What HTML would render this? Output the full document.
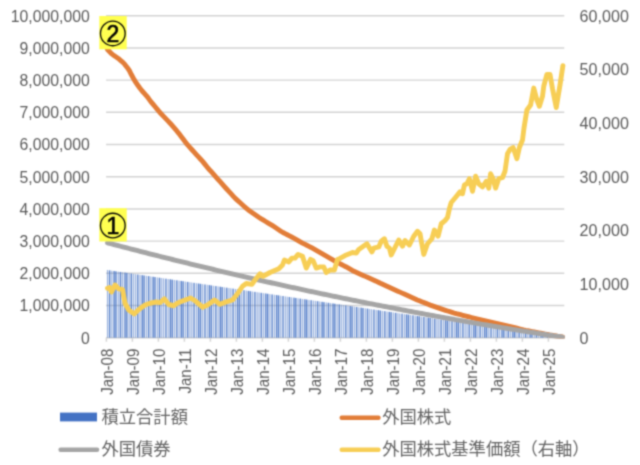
<!DOCTYPE html>
<html lang="ja"><head><meta charset="utf-8"><title>chart</title>
<style>html,body{margin:0;padding:0;background:#fff}body{width:640px;height:465px;overflow:hidden;font-family:"Liberation Sans",sans-serif}svg{display:block}text{font-family:"Liberation Sans",sans-serif;fill:#595959}</style>
</head><body>
<svg width="640" height="465" viewBox="0 0 640 465">
<defs>
<filter id="bl" color-interpolation-filters="sRGB" filterUnits="userSpaceOnUse" x="-20" y="-20" width="680" height="505"><feConvolveMatrix order="5" kernelMatrix="0.0001 0.002 0.0055 0.002 0.0001 0.002 0.0422 0.1171 0.0422 0.002 0.0055 0.1171 0.3248 0.1171 0.0055 0.002 0.0422 0.1171 0.0422 0.002 0.0001 0.002 0.0055 0.002 0.0001" edgeMode="duplicate" preserveAlpha="false"/></filter>
<filter id="bb" color-interpolation-filters="sRGB" filterUnits="userSpaceOnUse" x="100" y="260" width="472" height="82"><feConvolveMatrix order="7 1" kernelMatrix="0 0 0.0526 0.8948 0.0526 0 0" edgeMode="none" preserveAlpha="false"/></filter>
<clipPath id="pc"><rect x="95" y="0" width="480" height="338.40"/></clipPath>
</defs>
<rect width="640" height="465" fill="#fff"/>
<g filter="url(#bl)">
<rect x="-20" y="-20" width="680" height="505" fill="#fff"/>
<g stroke="#d3d3d3" stroke-width="1.45" fill="none">
<line x1="106.10" y1="15.70" x2="564.27" y2="15.70"/>
<line x1="106.10" y1="47.90" x2="564.27" y2="47.90"/>
<line x1="106.10" y1="80.10" x2="564.27" y2="80.10"/>
<line x1="106.10" y1="112.30" x2="564.27" y2="112.30"/>
<line x1="106.10" y1="144.50" x2="564.27" y2="144.50"/>
<line x1="106.10" y1="176.70" x2="564.27" y2="176.70"/>
<line x1="106.10" y1="208.90" x2="564.27" y2="208.90"/>
<line x1="106.10" y1="241.10" x2="564.27" y2="241.10"/>
<line x1="106.10" y1="273.30" x2="564.27" y2="273.30"/>
<line x1="106.10" y1="305.50" x2="564.27" y2="305.50"/>
<line x1="106.10" y1="337.70" x2="564.27" y2="337.70"/>
<line x1="106.40" y1="337.70" x2="106.40" y2="341.70"/>
<line x1="132.40" y1="337.70" x2="132.40" y2="341.70"/>
<line x1="158.40" y1="337.70" x2="158.40" y2="341.70"/>
<line x1="184.40" y1="337.70" x2="184.40" y2="341.70"/>
<line x1="210.40" y1="337.70" x2="210.40" y2="341.70"/>
<line x1="236.40" y1="337.70" x2="236.40" y2="341.70"/>
<line x1="262.40" y1="337.70" x2="262.40" y2="341.70"/>
<line x1="288.40" y1="337.70" x2="288.40" y2="341.70"/>
<line x1="314.40" y1="337.70" x2="314.40" y2="341.70"/>
<line x1="340.40" y1="337.70" x2="340.40" y2="341.70"/>
<line x1="366.40" y1="337.70" x2="366.40" y2="341.70"/>
<line x1="392.40" y1="337.70" x2="392.40" y2="341.70"/>
<line x1="418.40" y1="337.70" x2="418.40" y2="341.70"/>
<line x1="444.40" y1="337.70" x2="444.40" y2="341.70"/>
<line x1="470.40" y1="337.70" x2="470.40" y2="341.70"/>
<line x1="496.40" y1="337.70" x2="496.40" y2="341.70"/>
<line x1="522.40" y1="337.70" x2="522.40" y2="341.70"/>
<line x1="548.40" y1="337.70" x2="548.40" y2="341.70"/>
</g>
<g fill="#4472c4" filter="url(#bb)">
<rect x="107.04" y="270.00" width="0.64" height="67.70"/>
<rect x="108.96" y="270.32" width="1.28" height="67.38"/>
<rect x="111.52" y="270.64" width="0.64" height="67.06"/>
<rect x="113.44" y="270.96" width="1.28" height="66.74"/>
<rect x="115.36" y="271.29" width="1.28" height="66.41"/>
<rect x="117.92" y="271.61" width="0.64" height="66.09"/>
<rect x="119.84" y="271.93" width="1.28" height="65.77"/>
<rect x="122.40" y="272.25" width="0.64" height="65.45"/>
<rect x="124.32" y="272.57" width="1.28" height="65.13"/>
<rect x="126.24" y="272.89" width="1.28" height="64.81"/>
<rect x="128.80" y="273.21" width="0.64" height="64.49"/>
<rect x="130.72" y="273.54" width="1.28" height="64.16"/>
<rect x="133.28" y="273.86" width="0.64" height="63.84"/>
<rect x="135.20" y="274.18" width="0.64" height="63.52"/>
<rect x="137.12" y="274.50" width="1.28" height="63.20"/>
<rect x="139.68" y="274.82" width="0.64" height="62.88"/>
<rect x="141.60" y="275.14" width="1.28" height="62.56"/>
<rect x="143.52" y="275.46" width="1.28" height="62.24"/>
<rect x="146.08" y="275.79" width="0.64" height="61.91"/>
<rect x="148.00" y="276.11" width="1.28" height="61.59"/>
<rect x="150.56" y="276.43" width="0.64" height="61.27"/>
<rect x="152.48" y="276.75" width="1.28" height="60.95"/>
<rect x="154.40" y="277.07" width="1.28" height="60.63"/>
<rect x="156.96" y="277.39" width="0.64" height="60.31"/>
<rect x="158.88" y="277.71" width="1.28" height="59.99"/>
<rect x="161.44" y="278.04" width="0.64" height="59.66"/>
<rect x="163.36" y="278.36" width="0.64" height="59.34"/>
<rect x="165.28" y="278.68" width="1.28" height="59.02"/>
<rect x="167.84" y="279.00" width="0.64" height="58.70"/>
<rect x="169.76" y="279.32" width="1.28" height="58.38"/>
<rect x="171.68" y="279.64" width="1.28" height="58.06"/>
<rect x="174.24" y="279.96" width="0.64" height="57.74"/>
<rect x="176.16" y="280.29" width="1.28" height="57.41"/>
<rect x="178.72" y="280.61" width="0.64" height="57.09"/>
<rect x="180.64" y="280.93" width="1.28" height="56.77"/>
<rect x="182.56" y="281.25" width="1.28" height="56.45"/>
<rect x="185.12" y="281.57" width="0.64" height="56.13"/>
<rect x="187.04" y="281.89" width="1.28" height="55.81"/>
<rect x="189.60" y="282.21" width="0.64" height="55.49"/>
<rect x="191.52" y="282.54" width="0.64" height="55.16"/>
<rect x="193.44" y="282.86" width="1.28" height="54.84"/>
<rect x="196.00" y="283.18" width="0.64" height="54.52"/>
<rect x="197.92" y="283.50" width="1.28" height="54.20"/>
<rect x="199.84" y="283.82" width="1.28" height="53.88"/>
<rect x="202.40" y="284.14" width="0.64" height="53.56"/>
<rect x="204.32" y="284.46" width="1.28" height="53.24"/>
<rect x="206.88" y="284.79" width="0.64" height="52.91"/>
<rect x="208.80" y="285.11" width="1.28" height="52.59"/>
<rect x="210.72" y="285.43" width="1.28" height="52.27"/>
<rect x="213.28" y="285.75" width="0.64" height="51.95"/>
<rect x="215.20" y="286.07" width="1.28" height="51.63"/>
<rect x="217.76" y="286.39" width="0.64" height="51.31"/>
<rect x="219.68" y="286.71" width="1.28" height="50.99"/>
<rect x="221.60" y="287.04" width="1.28" height="50.66"/>
<rect x="224.16" y="287.36" width="0.64" height="50.34"/>
<rect x="226.08" y="287.68" width="1.28" height="50.02"/>
<rect x="228.64" y="288.00" width="0.64" height="49.70"/>
<rect x="230.56" y="288.32" width="0.64" height="49.38"/>
<rect x="232.48" y="288.64" width="1.28" height="49.06"/>
<rect x="235.04" y="288.96" width="0.64" height="48.74"/>
<rect x="236.96" y="289.29" width="1.28" height="48.41"/>
<rect x="238.88" y="289.61" width="1.28" height="48.09"/>
<rect x="241.44" y="289.93" width="0.64" height="47.77"/>
<rect x="243.36" y="290.25" width="1.28" height="47.45"/>
<rect x="245.92" y="290.57" width="0.64" height="47.13"/>
<rect x="247.84" y="290.89" width="1.28" height="46.81"/>
<rect x="249.76" y="291.21" width="1.28" height="46.49"/>
<rect x="252.32" y="291.54" width="0.64" height="46.16"/>
<rect x="254.24" y="291.86" width="1.28" height="45.84"/>
<rect x="256.80" y="292.18" width="0.64" height="45.52"/>
<rect x="258.72" y="292.50" width="0.64" height="45.20"/>
<rect x="260.64" y="292.82" width="1.28" height="44.88"/>
<rect x="263.20" y="293.14" width="0.64" height="44.56"/>
<rect x="265.12" y="293.46" width="1.28" height="44.24"/>
<rect x="267.04" y="293.79" width="1.28" height="43.91"/>
<rect x="269.60" y="294.11" width="0.64" height="43.59"/>
<rect x="271.52" y="294.43" width="1.28" height="43.27"/>
<rect x="274.08" y="294.75" width="0.64" height="42.95"/>
<rect x="276.00" y="295.07" width="1.28" height="42.63"/>
<rect x="277.92" y="295.39" width="1.28" height="42.31"/>
<rect x="280.48" y="295.71" width="0.64" height="41.99"/>
<rect x="282.40" y="296.04" width="1.28" height="41.66"/>
<rect x="284.96" y="296.36" width="0.64" height="41.34"/>
<rect x="286.88" y="296.68" width="0.64" height="41.02"/>
<rect x="288.80" y="297.00" width="1.28" height="40.70"/>
<rect x="291.36" y="297.32" width="0.64" height="40.38"/>
<rect x="293.28" y="297.64" width="1.28" height="40.06"/>
<rect x="295.20" y="297.96" width="1.28" height="39.74"/>
<rect x="297.76" y="298.29" width="0.64" height="39.41"/>
<rect x="299.68" y="298.61" width="1.28" height="39.09"/>
<rect x="302.24" y="298.93" width="0.64" height="38.77"/>
<rect x="304.16" y="299.25" width="1.28" height="38.45"/>
<rect x="306.08" y="299.57" width="1.28" height="38.13"/>
<rect x="308.64" y="299.89" width="0.64" height="37.81"/>
<rect x="310.56" y="300.21" width="1.28" height="37.49"/>
<rect x="313.12" y="300.54" width="0.64" height="37.16"/>
<rect x="315.04" y="300.86" width="0.64" height="36.84"/>
<rect x="316.96" y="301.18" width="1.28" height="36.52"/>
<rect x="319.52" y="301.50" width="0.64" height="36.20"/>
<rect x="321.44" y="301.82" width="1.28" height="35.88"/>
<rect x="323.36" y="302.14" width="1.28" height="35.56"/>
<rect x="325.92" y="302.46" width="0.64" height="35.24"/>
<rect x="327.84" y="302.79" width="1.28" height="34.91"/>
<rect x="330.40" y="303.11" width="0.64" height="34.59"/>
<rect x="332.32" y="303.43" width="1.28" height="34.27"/>
<rect x="334.24" y="303.75" width="1.28" height="33.95"/>
<rect x="336.80" y="304.07" width="0.64" height="33.63"/>
<rect x="338.72" y="304.39" width="1.28" height="33.31"/>
<rect x="341.28" y="304.71" width="0.64" height="32.99"/>
<rect x="343.20" y="305.04" width="0.64" height="32.66"/>
<rect x="345.12" y="305.36" width="1.28" height="32.34"/>
<rect x="347.68" y="305.68" width="0.64" height="32.02"/>
<rect x="349.60" y="306.00" width="1.28" height="31.70"/>
<rect x="351.52" y="306.32" width="1.28" height="31.38"/>
<rect x="354.08" y="306.64" width="0.64" height="31.06"/>
<rect x="356.00" y="306.96" width="1.28" height="30.74"/>
<rect x="358.56" y="307.29" width="0.64" height="30.41"/>
<rect x="360.48" y="307.61" width="1.28" height="30.09"/>
<rect x="362.40" y="307.93" width="1.28" height="29.77"/>
<rect x="364.96" y="308.25" width="0.64" height="29.45"/>
<rect x="366.88" y="308.57" width="1.28" height="29.13"/>
<rect x="369.44" y="308.89" width="0.64" height="28.81"/>
<rect x="371.36" y="309.21" width="0.64" height="28.49"/>
<rect x="373.28" y="309.54" width="1.28" height="28.16"/>
<rect x="375.84" y="309.86" width="0.64" height="27.84"/>
<rect x="377.76" y="310.18" width="1.28" height="27.52"/>
<rect x="379.68" y="310.50" width="1.28" height="27.20"/>
<rect x="382.24" y="310.82" width="0.64" height="26.88"/>
<rect x="384.16" y="311.14" width="1.28" height="26.56"/>
<rect x="386.72" y="311.46" width="0.64" height="26.24"/>
<rect x="388.64" y="311.79" width="1.28" height="25.91"/>
<rect x="390.56" y="312.11" width="1.28" height="25.59"/>
<rect x="393.12" y="312.43" width="0.64" height="25.27"/>
<rect x="395.04" y="312.75" width="1.28" height="24.95"/>
<rect x="397.60" y="313.07" width="0.64" height="24.63"/>
<rect x="399.52" y="313.39" width="0.64" height="24.31"/>
<rect x="401.44" y="313.71" width="1.28" height="23.99"/>
<rect x="404.00" y="314.04" width="0.64" height="23.66"/>
<rect x="405.92" y="314.36" width="1.28" height="23.34"/>
<rect x="407.84" y="314.68" width="1.28" height="23.02"/>
<rect x="410.40" y="315.00" width="0.64" height="22.70"/>
<rect x="412.32" y="315.32" width="1.28" height="22.38"/>
<rect x="414.88" y="315.64" width="0.64" height="22.06"/>
<rect x="416.80" y="315.96" width="1.28" height="21.74"/>
<rect x="418.72" y="316.29" width="1.28" height="21.41"/>
<rect x="421.28" y="316.61" width="0.64" height="21.09"/>
<rect x="423.20" y="316.93" width="1.28" height="20.77"/>
<rect x="425.76" y="317.25" width="0.64" height="20.45"/>
<rect x="427.68" y="317.57" width="1.28" height="20.13"/>
<rect x="429.60" y="317.89" width="1.28" height="19.81"/>
<rect x="432.16" y="318.21" width="0.64" height="19.49"/>
<rect x="434.08" y="318.54" width="1.28" height="19.16"/>
<rect x="436.64" y="318.86" width="0.64" height="18.84"/>
<rect x="438.56" y="319.18" width="0.64" height="18.52"/>
<rect x="440.48" y="319.50" width="1.28" height="18.20"/>
<rect x="443.04" y="319.82" width="0.64" height="17.88"/>
<rect x="444.96" y="320.14" width="1.28" height="17.56"/>
<rect x="446.88" y="320.46" width="1.28" height="17.24"/>
<rect x="449.44" y="320.79" width="0.64" height="16.91"/>
<rect x="451.36" y="321.11" width="1.28" height="16.59"/>
<rect x="453.92" y="321.43" width="0.64" height="16.27"/>
<rect x="455.84" y="321.75" width="1.28" height="15.95"/>
<rect x="457.76" y="322.07" width="1.28" height="15.63"/>
<rect x="460.32" y="322.39" width="0.64" height="15.31"/>
<rect x="462.24" y="322.71" width="1.28" height="14.99"/>
<rect x="464.80" y="323.04" width="0.64" height="14.66"/>
<rect x="466.72" y="323.36" width="0.64" height="14.34"/>
<rect x="468.64" y="323.68" width="1.28" height="14.02"/>
<rect x="471.20" y="324.00" width="0.64" height="13.70"/>
<rect x="473.12" y="324.32" width="1.28" height="13.38"/>
<rect x="475.04" y="324.64" width="1.28" height="13.06"/>
<rect x="477.60" y="324.96" width="0.64" height="12.74"/>
<rect x="479.52" y="325.29" width="1.28" height="12.41"/>
<rect x="482.08" y="325.61" width="0.64" height="12.09"/>
<rect x="484.00" y="325.93" width="1.28" height="11.77"/>
<rect x="485.92" y="326.25" width="1.28" height="11.45"/>
<rect x="488.48" y="326.57" width="0.64" height="11.13"/>
<rect x="490.40" y="326.89" width="1.28" height="10.81"/>
<rect x="492.96" y="327.21" width="0.64" height="10.49"/>
<rect x="494.88" y="327.54" width="0.64" height="10.16"/>
<rect x="496.80" y="327.86" width="1.28" height="9.84"/>
<rect x="499.36" y="328.18" width="0.64" height="9.52"/>
<rect x="501.28" y="328.50" width="1.28" height="9.20"/>
<rect x="503.20" y="328.82" width="1.28" height="8.88"/>
<rect x="505.76" y="329.14" width="0.64" height="8.56"/>
<rect x="507.68" y="329.46" width="1.28" height="8.24"/>
<rect x="510.24" y="329.79" width="0.64" height="7.91"/>
<rect x="512.16" y="330.11" width="1.28" height="7.59"/>
<rect x="514.08" y="330.43" width="1.28" height="7.27"/>
<rect x="516.64" y="330.75" width="0.64" height="6.95"/>
<rect x="518.56" y="331.07" width="1.28" height="6.63"/>
<rect x="521.12" y="331.39" width="0.64" height="6.31"/>
<rect x="523.04" y="331.71" width="0.64" height="5.99"/>
<rect x="524.96" y="332.04" width="1.28" height="5.66"/>
<rect x="527.52" y="332.36" width="0.64" height="5.34"/>
<rect x="529.44" y="332.68" width="1.28" height="5.02"/>
<rect x="531.36" y="333.00" width="1.28" height="4.70"/>
<rect x="533.92" y="333.32" width="0.64" height="4.38"/>
<rect x="535.84" y="333.64" width="1.28" height="4.06"/>
<rect x="538.40" y="333.96" width="0.64" height="3.74"/>
<rect x="540.32" y="334.29" width="1.28" height="3.41"/>
<rect x="542.24" y="334.61" width="1.28" height="3.09"/>
<rect x="544.80" y="334.93" width="0.64" height="2.77"/>
<rect x="546.72" y="335.25" width="1.28" height="2.45"/>
<rect x="549.28" y="335.57" width="0.64" height="2.13"/>
<rect x="551.20" y="335.89" width="0.64" height="1.81"/>
<rect x="553.12" y="336.21" width="1.28" height="1.49"/>
<rect x="555.68" y="336.54" width="0.64" height="1.16"/>
<rect x="557.60" y="336.86" width="1.28" height="0.84"/>
<rect x="559.52" y="337.18" width="1.28" height="0.52"/>
<rect x="562.08" y="337.50" width="0.64" height="0.20"/>
</g>
<g clip-path="url(#pc)">
<polyline points="107.48,49.58 109.65,51.75 111.82,53.92 113.98,55.58 116.15,57.02 118.32,58.46 120.48,60.26 122.65,62.14 124.82,64.44 126.98,67.17 129.15,70.20 131.32,74.53 133.48,78.53 135.65,82.11 137.82,85.26 139.98,88.25 142.15,90.99 144.32,93.39 146.48,95.78 148.65,98.60 150.82,101.58 152.98,104.18 155.15,106.78 157.32,109.38 159.48,111.98 161.65,114.33 163.82,116.61 165.98,118.88 168.15,121.16 170.32,123.46 172.48,125.96 174.65,128.45 176.82,130.94 178.98,133.59 181.15,136.44 183.32,139.30 185.48,142.15 187.65,144.97 189.82,147.36 191.98,149.76 194.15,152.16 196.32,154.53 198.48,156.89 200.65,159.24 202.82,161.65 204.98,164.35 207.15,167.06 209.32,169.53 211.48,171.96 213.65,174.39 215.82,176.81 217.98,179.26 220.15,181.71 222.32,184.16 224.48,186.62 226.65,189.00 228.82,191.36 230.98,193.72 233.15,196.08 235.32,198.39 237.48,200.34 239.65,202.30 241.82,204.26 243.98,206.22 246.15,208.18 248.32,209.97 250.48,211.48 252.65,212.98 254.82,214.49 256.98,216.00 259.15,217.51 261.32,218.89 263.48,220.19 265.65,221.49 267.82,222.79 269.98,224.09 272.15,225.39 274.32,226.82 276.48,228.27 278.65,229.72 280.82,231.17 282.98,232.55 285.15,233.67 287.32,234.79 289.48,235.90 291.65,237.02 293.82,238.14 295.98,239.32 298.15,240.58 300.32,241.83 302.48,243.09 304.65,244.18 306.82,245.27 308.98,246.36 311.15,247.45 313.32,248.68 315.48,249.92 317.65,251.16 319.82,252.40 321.98,253.63 324.15,254.87 326.32,256.11 328.48,257.35 330.65,258.59 332.82,259.82 334.98,261.06 337.15,262.30 339.32,263.41 341.48,264.49 343.65,265.57 345.82,266.72 347.98,267.98 350.15,269.24 352.32,270.49 354.48,271.50 356.65,272.48 358.82,273.46 360.98,274.43 363.15,275.41 365.32,276.39 367.48,277.33 369.65,278.27 371.82,279.22 373.98,280.16 376.15,281.18 378.32,282.26 380.48,283.32 382.65,284.30 384.82,285.28 386.98,286.26 389.15,287.24 391.32,288.22 393.48,289.19 395.65,290.17 397.82,291.15 399.98,292.13 402.15,293.11 404.32,294.09 406.48,295.06 408.65,296.04 410.82,297.01 412.98,297.98 415.15,298.95 417.32,299.92 419.48,300.79 421.65,301.66 423.82,302.53 425.98,303.39 428.15,304.26 430.32,305.11 432.48,305.87 434.65,306.64 436.82,307.40 438.98,308.16 441.15,308.92 443.32,309.65 445.48,310.33 447.65,311.01 449.82,311.68 451.98,312.36 454.15,313.03 456.32,313.64 458.48,314.19 460.65,314.74 462.82,315.29 464.98,315.85 467.15,316.40 469.32,316.95 471.48,317.50 473.65,318.06 475.82,318.59 477.98,319.08 480.15,319.57 482.32,320.06 484.48,320.55 486.65,321.04 488.82,321.53 490.98,322.03 493.15,322.54 495.32,323.05 497.48,323.56 499.65,324.07 501.82,324.58 503.98,325.09 506.15,325.60 508.32,326.10 510.48,326.62 512.65,327.15 514.82,327.69 516.98,328.22 519.15,328.76 521.32,329.29 523.48,329.83 525.65,330.32 527.82,330.74 529.98,331.16 532.15,331.57 534.32,331.99 536.48,332.40 538.65,332.82 540.82,333.24 542.98,333.65 545.15,334.07 547.32,334.48 549.48,334.90 551.65,335.26 553.82,335.61 555.98,335.96 558.15,336.30 560.32,336.65 562.48,337.00" fill="none" stroke="#e27d38" stroke-width="4.9" stroke-linejoin="round" stroke-linecap="round"/>
<polyline points="107.48,242.83 109.65,243.40 111.82,243.97 113.98,244.54 116.15,245.11 118.32,245.68 120.48,246.25 122.65,246.81 124.82,247.38 126.98,247.94 129.15,248.50 131.32,249.06 133.48,249.62 135.65,250.18 137.82,250.74 139.98,251.30 142.15,251.85 144.32,252.40 146.48,252.96 148.65,253.51 150.82,254.06 152.98,254.61 155.15,255.16 157.32,255.70 159.48,256.25 161.65,256.79 163.82,257.34 165.98,257.88 168.15,258.42 170.32,258.96 172.48,259.50 174.65,260.04 176.82,260.57 178.98,261.11 181.15,261.64 183.32,262.17 185.48,262.70 187.65,263.23 189.82,263.76 191.98,264.29 194.15,264.82 196.32,265.34 198.48,265.87 200.65,266.39 202.82,266.91 204.98,267.43 207.15,267.95 209.32,268.47 211.48,268.99 213.65,269.50 215.82,270.02 217.98,270.53 220.15,271.04 222.32,271.56 224.48,272.07 226.65,272.58 228.82,273.08 230.98,273.59 233.15,274.09 235.32,274.60 237.48,275.10 239.65,275.60 241.82,276.10 243.98,276.60 246.15,277.10 248.32,277.60 250.48,278.09 252.65,278.59 254.82,279.08 256.98,279.57 259.15,280.07 261.32,280.56 263.48,281.04 265.65,281.53 267.82,282.02 269.98,282.50 272.15,282.99 274.32,283.47 276.48,283.95 278.65,284.43 280.82,284.91 282.98,285.39 285.15,285.87 287.32,286.34 289.48,286.82 291.65,287.29 293.82,287.76 295.98,288.23 298.15,288.70 300.32,289.17 302.48,289.64 304.65,290.10 306.82,290.57 308.98,291.03 311.15,291.50 313.32,291.96 315.48,292.42 317.65,292.88 319.82,293.33 321.98,293.79 324.15,294.25 326.32,294.70 328.48,295.15 330.65,295.61 332.82,296.06 334.98,296.51 337.15,296.95 339.32,297.40 341.48,297.85 343.65,298.29 345.82,298.74 347.98,299.18 350.15,299.62 352.32,300.06 354.48,300.50 356.65,300.94 358.82,301.37 360.98,301.81 363.15,302.24 365.32,302.68 367.48,303.11 369.65,303.54 371.82,303.97 373.98,304.40 376.15,304.82 378.32,305.25 380.48,305.67 382.65,306.10 384.82,306.52 386.98,306.94 389.15,307.36 391.32,307.78 393.48,308.20 395.65,308.61 397.82,309.03 399.98,309.44 402.15,309.86 404.32,310.27 406.48,310.68 408.65,311.09 410.82,311.49 412.98,311.90 415.15,312.31 417.32,312.71 419.48,313.11 421.65,313.52 423.82,313.92 425.98,314.32 428.15,314.72 430.32,315.11 432.48,315.51 434.65,315.90 436.82,316.30 438.98,316.69 441.15,317.08 443.32,317.47 445.48,317.86 447.65,318.25 449.82,318.64 451.98,319.02 454.15,319.41 456.32,319.79 458.48,320.17 460.65,320.55 462.82,320.93 464.98,321.31 467.15,321.69 469.32,322.06 471.48,322.44 473.65,322.81 475.82,323.19 477.98,323.56 480.15,323.93 482.32,324.30 484.48,324.66 486.65,325.03 488.82,325.40 490.98,325.76 493.15,326.12 495.32,326.48 497.48,326.84 499.65,327.20 501.82,327.56 503.98,327.92 506.15,328.28 508.32,328.63 510.48,328.98 512.65,329.34 514.82,329.69 516.98,330.04 519.15,330.39 521.32,330.73 523.48,331.08 525.65,331.43 527.82,331.77 529.98,332.11 532.15,332.45 534.32,332.79 536.48,333.13 538.65,333.47 540.82,333.81 542.98,334.14 545.15,334.48 547.32,334.81 549.48,335.14 551.65,335.48 553.82,335.81 555.98,336.13 558.15,336.46 560.32,336.79 562.48,337.11" fill="none" stroke="#a5a5a5" stroke-width="4.9" stroke-linejoin="round" stroke-linecap="round"/>
<polyline points="107.50,288.25 109.50,287.60 111.50,292.00 115.00,285.00 118.75,288.90 122.50,289.50 125.00,303.25 128.75,310.00 134.40,313.90 138.75,309.50 145.00,305.00 150.00,303.25 156.25,302.00 160.00,302.60 164.40,298.90 168.75,304.50 173.75,305.75 177.50,303.10 183.75,300.60 190.60,298.00 195.00,300.60 202.50,307.20 207.50,305.00 214.40,300.00 220.00,304.30 226.25,301.90 232.50,300.00 237.50,293.75 242.50,286.25 246.25,283.50 251.90,284.40 255.00,280.00 260.00,273.75 263.10,276.25 270.00,272.50 278.75,268.75 282.50,265.00 284.40,260.00 288.75,261.90 291.90,258.10 295.00,258.10 298.10,254.40 302.50,256.25 306.25,268.10 310.60,259.40 313.10,260.60 316.25,268.10 320.00,266.90 323.75,266.90 326.25,272.50 330.00,270.00 334.40,270.00 337.50,259.40 340.00,258.40 345.00,255.60 352.50,252.50 356.25,253.10 358.75,249.40 366.90,243.75 371.90,251.90 373.75,248.10 378.75,246.90 381.25,241.25 384.40,238.75 386.90,246.25 389.40,248.10 391.25,255.00 395.00,247.50 398.75,240.00 402.50,246.25 405.00,240.60 409.40,245.00 413.75,236.25 417.50,231.25 420.00,233.75 423.75,254.40 427.50,243.75 431.90,238.75 434.40,230.00 438.10,236.25 441.25,223.75 445.00,220.60 447.50,217.50 449.40,208.75 451.25,202.50 455.00,198.00 460.00,191.90 462.50,193.75 464.40,185.00 466.90,183.75 469.40,178.75 472.50,191.25 475.60,176.25 478.75,183.75 482.50,186.90 486.25,181.25 488.75,188.10 490.60,173.75 493.10,178.75 495.60,188.10 498.75,178.75 502.50,177.50 505.00,171.25 507.50,153.75 510.00,149.40 513.10,147.50 516.90,158.75 519.40,147.50 522.50,140.00 524.00,128.00 526.90,110.00 530.60,105.00 533.75,88.10 536.90,100.00 539.40,106.25 542.50,96.25 543.75,86.25 546.90,74.40 550.00,74.40 552.50,88.75 556.25,107.50 560.00,85.00 562.90,65.60" fill="none" stroke="#f7ce55" stroke-width="4.9" stroke-linejoin="round" stroke-linecap="round"/>
</g>
<rect x="99.3" y="16.00" width="27.4" height="33.3" fill="#ffff50"/>
<circle cx="112.8" cy="33.40" r="12.35" fill="none" stroke="#000" stroke-width="1.3"/>
<text x="112.8" y="41.70" font-size="23" text-anchor="middle" style="fill:#000" stroke="#000" stroke-width="0.6">2</text>
<rect x="99.3" y="208.20" width="27.4" height="33.3" fill="#ffff50"/>
<circle cx="112.8" cy="225.60" r="12.35" fill="none" stroke="#000" stroke-width="1.3"/>
<text x="112.8" y="233.90" font-size="23" text-anchor="middle" style="fill:#000" stroke="#000" stroke-width="0.6">1</text>
<text transform="translate(89.8,21.50) scale(0.975,1)" font-size="16.2" text-anchor="end">10,000,000</text>
<text transform="translate(89.8,53.70) scale(0.975,1)" font-size="16.2" text-anchor="end">9,000,000</text>
<text transform="translate(89.8,85.90) scale(0.975,1)" font-size="16.2" text-anchor="end">8,000,000</text>
<text transform="translate(89.8,118.10) scale(0.975,1)" font-size="16.2" text-anchor="end">7,000,000</text>
<text transform="translate(89.8,150.30) scale(0.975,1)" font-size="16.2" text-anchor="end">6,000,000</text>
<text transform="translate(89.8,182.50) scale(0.975,1)" font-size="16.2" text-anchor="end">5,000,000</text>
<text transform="translate(89.8,214.70) scale(0.975,1)" font-size="16.2" text-anchor="end">4,000,000</text>
<text transform="translate(89.8,246.90) scale(0.975,1)" font-size="16.2" text-anchor="end">3,000,000</text>
<text transform="translate(89.8,279.10) scale(0.975,1)" font-size="16.2" text-anchor="end">2,000,000</text>
<text transform="translate(89.8,311.30) scale(0.975,1)" font-size="16.2" text-anchor="end">1,000,000</text>
<text transform="translate(89.8,343.50) scale(0.975,1)" font-size="16.2" text-anchor="end">0</text>
<text transform="translate(579.6,21.50) scale(0.995,1)" font-size="16.2">60,000</text>
<text transform="translate(579.6,75.17) scale(0.995,1)" font-size="16.2">50,000</text>
<text transform="translate(579.6,128.83) scale(0.995,1)" font-size="16.2">40,000</text>
<text transform="translate(579.6,182.50) scale(0.995,1)" font-size="16.2">30,000</text>
<text transform="translate(579.6,236.17) scale(0.995,1)" font-size="16.2">20,000</text>
<text transform="translate(579.6,289.83) scale(0.995,1)" font-size="16.2">10,000</text>
<text transform="translate(579.6,343.50) scale(0.995,1)" font-size="16.2">0</text>
<text transform="translate(112.60,348.6) rotate(-90) scale(0.932,1)" font-size="16.2" text-anchor="end">Jan-08</text>
<text transform="translate(138.60,348.6) rotate(-90) scale(0.932,1)" font-size="16.2" text-anchor="end">Jan-09</text>
<text transform="translate(164.60,348.6) rotate(-90) scale(0.932,1)" font-size="16.2" text-anchor="end">Jan-10</text>
<text transform="translate(190.60,348.6) rotate(-90) scale(0.932,1)" font-size="16.2" text-anchor="end">Jan-11</text>
<text transform="translate(216.60,348.6) rotate(-90) scale(0.932,1)" font-size="16.2" text-anchor="end">Jan-12</text>
<text transform="translate(242.60,348.6) rotate(-90) scale(0.932,1)" font-size="16.2" text-anchor="end">Jan-13</text>
<text transform="translate(268.60,348.6) rotate(-90) scale(0.932,1)" font-size="16.2" text-anchor="end">Jan-14</text>
<text transform="translate(294.60,348.6) rotate(-90) scale(0.932,1)" font-size="16.2" text-anchor="end">Jan-15</text>
<text transform="translate(320.60,348.6) rotate(-90) scale(0.932,1)" font-size="16.2" text-anchor="end">Jan-16</text>
<text transform="translate(346.60,348.6) rotate(-90) scale(0.932,1)" font-size="16.2" text-anchor="end">Jan-17</text>
<text transform="translate(372.60,348.6) rotate(-90) scale(0.932,1)" font-size="16.2" text-anchor="end">Jan-18</text>
<text transform="translate(398.60,348.6) rotate(-90) scale(0.932,1)" font-size="16.2" text-anchor="end">Jan-19</text>
<text transform="translate(424.60,348.6) rotate(-90) scale(0.932,1)" font-size="16.2" text-anchor="end">Jan-20</text>
<text transform="translate(450.60,348.6) rotate(-90) scale(0.932,1)" font-size="16.2" text-anchor="end">Jan-21</text>
<text transform="translate(476.60,348.6) rotate(-90) scale(0.932,1)" font-size="16.2" text-anchor="end">Jan-22</text>
<text transform="translate(502.60,348.6) rotate(-90) scale(0.932,1)" font-size="16.2" text-anchor="end">Jan-23</text>
<text transform="translate(528.60,348.6) rotate(-90) scale(0.932,1)" font-size="16.2" text-anchor="end">Jan-24</text>
<text transform="translate(554.60,348.6) rotate(-90) scale(0.932,1)" font-size="16.2" text-anchor="end">Jan-25</text>
<rect x="60" y="412.6" width="37" height="8.8" fill="#4472c4"/>
<line x1="60.6" y1="449.7" x2="97.1" y2="449.7" stroke="#a5a5a5" stroke-width="4.4" stroke-linecap="round"/>
<line x1="341.7" y1="417.7" x2="378.5" y2="417.7" stroke="#e27d38" stroke-width="4.4" stroke-linecap="round"/>
<line x1="341.7" y1="449.7" x2="378.5" y2="449.7" stroke="#f7ce55" stroke-width="4.4" stroke-linecap="round"/>
<text x="101.5" y="422.9" font-size="17.3" style="font-family:'Liberation Sans','Noto Sans CJK JP',sans-serif;fill:#626262">積立合計額</text>
<text x="101.5" y="454.9" font-size="17.3" style="font-family:'Liberation Sans','Noto Sans CJK JP',sans-serif;fill:#626262">外国債券</text>
<text x="382.2" y="422.9" font-size="17.3" style="font-family:'Liberation Sans','Noto Sans CJK JP',sans-serif;fill:#626262">外国株式</text>
<text x="382.2" y="454.9" font-size="17.3" style="font-family:'Liberation Sans','Noto Sans CJK JP',sans-serif;fill:#626262">外国株式基準価額（右軸）</text>
</g>
</svg>
</body></html>
